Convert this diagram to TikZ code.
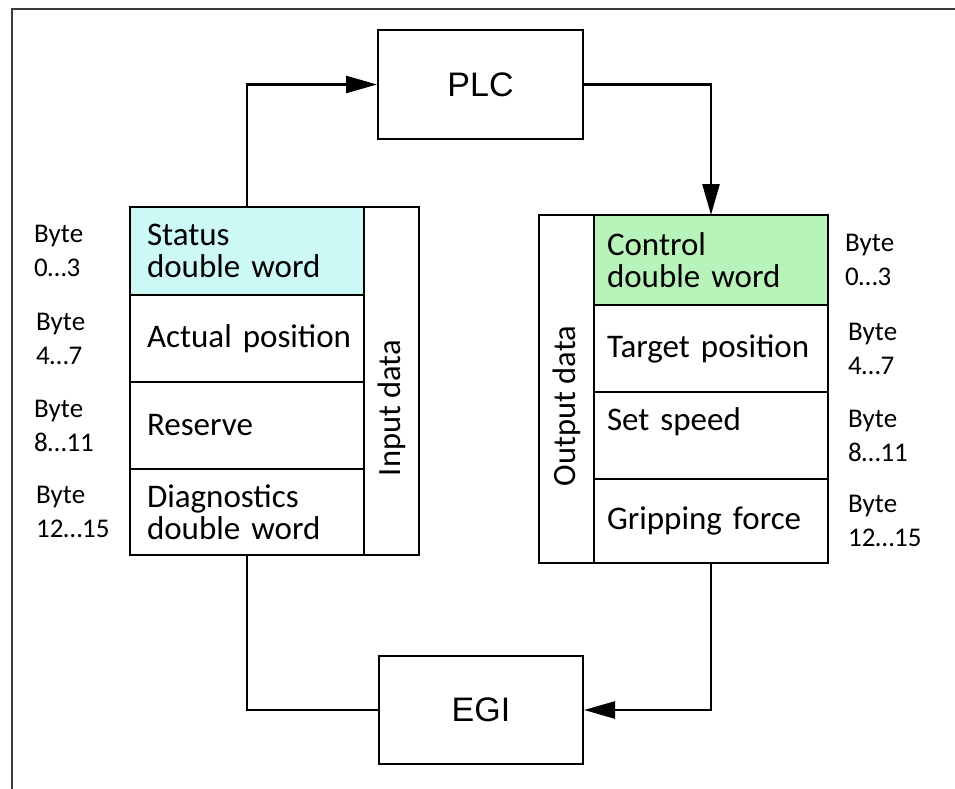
\documentclass[tikz,border=0pt]{standalone}
\usepackage{fontspec}
\setmainfont{Carlito}
\newfontfamily\boxfont{Liberation Sans}
\usetikzlibrary{arrows.meta,positioning}
\definecolor{statuscyan}{RGB}{204,248,245}
\definecolor{controlgreen}{RGB}{184,244,186}
\definecolor{framegray}{RGB}{60,60,60}
\tikzset{box node/.style={rectangle,draw,line width=2pt,minimum width=205pt,minimum height=109pt,font=\boxfont\fontsize{34}{40}\selectfont},
         in cell/.style={rectangle,draw,line width=2.2pt,text width=200pt,inner xsep=17pt,inner ysep=0pt,outer sep=0pt,align=left,font=\fontsize{33}{32}\selectfont},
         out cell/.style={in cell,text width=208pt,inner xsep=13pt},
         data column/.style={rectangle,draw,line width=2.2pt,minimum width=55pt,outer sep=0pt},
         column label/.style={rotate=90,inner sep=0pt,font=\fontsize{32.5}{32}\selectfont},
         byte label/.style={anchor=west,inner sep=0pt,align=left,font=\fontsize{27}{34}\selectfont},
         link/.style={line width=2.5pt}
}

\begin{document}
\begin{tikzpicture}[x=1pt,y=-1pt,
>={Triangle[length=31pt,width=17pt]}]
\useasboundingbox (0,0) rectangle (955,789);
\draw[framegray,line width=1.5pt] (12,789) -- (12,9) -- (955,9);

\node[box node] (plc) at (480.5,84.5) {PLC};
\node[box node,minimum width=204pt,minimum height=108pt] (egi) at (481,710) {EGI};

% input data
\node[in cell,fill=statuscyan,minimum height=88pt,anchor=north west] (status) at (130,207) {Status\\double word};
\node[in cell,minimum height=87pt,below=0pt of status] (actual) {\mbox{Actual position}};
\node[in cell,minimum height=87pt,below=0pt of actual] (reserve) {Reserve};
\node[in cell,minimum height=86pt,below=0pt of reserve] (diag) {Diagnostics\\double word};
\node[data column,minimum height=348pt,anchor=north west] (incol) at (status.north east) {};
\node[column label] (inlabel) at ([yshift=-27pt]incol.center) {Input data};

\node[byte label] (inbyte0) at ([xshift=-96pt]status.west) {Byte\\0…3};
\node[byte label] (inbyte1) at ([xshift=-94pt]actual.west) {Byte\\4…7};
\node[byte label] (inbyte2) at ([xshift=-96pt]reserve.west) {Byte\\8…11};
\node[byte label] (inbyte3) at ([xshift=-94pt]diag.west) {Byte\\12…15};

% output data
\node[out cell,fill=controlgreen,minimum height=90pt,anchor=north west] (control) at (594,215) {Control\\double word};
\node[out cell,minimum height=87pt,below=0pt of control] (target) {Target position};
\node[out cell,minimum height=87pt,below=0pt of target] (speed) {Set speed\\\mbox{}};
\node[out cell,minimum height=84pt,below=0pt of speed] (grip) {Gripping force};
\node[data column,minimum height=348pt,anchor=north east] (outcol) at (control.north west) {};
\node[column label] (outlabel) at ([yshift=-17pt]outcol.center) {Output data};

\node[byte label] (outbyte0) at ([xshift=17pt]control.east) {Byte\\0…3};
\node[byte label] (outbyte1) at ([xshift=20pt]target.east) {Byte\\4…7};
\node[byte label] (outbyte2) at ([xshift=20pt]speed.east) {Byte\\8…11};
\node[byte label] (outbyte3) at ([xshift=20pt]grip.east) {Byte\\12…15};

\draw[link,->] (status.north) |- (plc.west);
\draw[link,->] (plc.east) -| (control.north);
\draw[link,->] (grip.south) |- (egi.east);
\draw[link] (diag.south) |- (egi.west);
\end{tikzpicture}
\end{document}
